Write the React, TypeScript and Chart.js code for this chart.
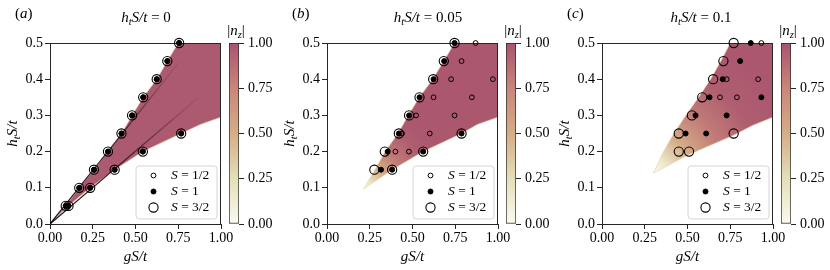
import React, { useEffect, useRef } from 'react';
import { Chart, registerables } from 'chart.js';
Chart.register(...registerables);

const FONT = "'Liberation Serif', 'Times New Roman', serif";
const TICK_SIZE = 14;
const LABEL_SIZE = 15;

// ---------- ticks ----------
const X_TICKS = [0, 0.25, 0.5, 0.75, 1.0];
const Y_TICKS = [0, 0.1, 0.2, 0.3, 0.4, 0.5];
const CBAR_TICKS = [0, 0.25, 0.5, 0.75, 1.0];

// ---------- colormap (|n_z|) ----------
const CMAP_POS = [0, 0.25, 0.5, 0.75, 1];
const CMAP_COL = ['#fafaf0', '#e4dfb8', '#d5ad88', '#c98679', '#a8546e'];

// ---------- panel (a): h_t S/t = 0 ----------
const A_POINTS = [
  [0.092, 0.05], [0.171, 0.1], [0.257, 0.15], [0.339, 0.2], [0.418, 0.25],
  [0.48, 0.3], [0.545, 0.35], [0.624, 0.4], [0.686, 0.45], [0.755, 0.5],
  [0.108, 0.05], [0.235, 0.1], [0.378, 0.15], [0.543, 0.2], [0.767, 0.25],
];
const A_S12 = A_POINTS;
const A_S1 = A_POINTS;
const A_S32 = A_POINTS;
const A_UPPER = [[0, 0], [0.092, 0.05], [0.171, 0.1], [0.257, 0.15], [0.339, 0.2], [0.418, 0.25], [0.48, 0.3], [0.545, 0.35], [0.624, 0.4], [0.686, 0.45], [0.75, 0.5]];
const A_LOWER = [[0, 0], [0.108, 0.05], [0.235, 0.1], [0.378, 0.15], [0.543, 0.2], [0.767, 0.25], [0.88, 0.275], [1.0, 0.295]];
const A_LINE1 = [[0, 0], [0.76, 0.45]];
const A_LINE2 = [[0, 0], [0.87, 0.35]];
const A_LEVEL = 0.97;

// ---------- panel (b): h_t S/t = 0.05 ----------
const B_S12 = [
  [0.869, 0.5], [0.787, 0.45], [0.726, 0.4], [0.97, 0.4], [0.623, 0.35], [0.847, 0.35],
  [0.521, 0.3], [0.746, 0.3], [0.439, 0.25], [0.601, 0.25], [0.4, 0.2], [0.479, 0.2],
];
const B_S1 = [
  [0.316, 0.15], [0.381, 0.15], [0.355, 0.2], [0.5625, 0.2], [0.42, 0.25], [0.787, 0.25],
  [0.48, 0.3], [0.541, 0.35], [0.623, 0.4], [0.685, 0.45], [0.746, 0.5],
];
const B_S32 = [
  [0.277, 0.15], [0.381, 0.15], [0.338, 0.2], [0.5625, 0.2], [0.42, 0.25], [0.787, 0.25],
  [0.48, 0.3], [0.541, 0.35], [0.621, 0.4], [0.683, 0.45], [0.746, 0.5],
];
const B_UPPER = [[0.215, 0.097], [0.28, 0.15], [0.34, 0.2], [0.415, 0.25], [0.475, 0.3], [0.54, 0.35], [0.618, 0.4], [0.683, 0.45], [0.745, 0.5]];
const B_LOWER = [[0.215, 0.097], [0.381, 0.15], [0.5625, 0.2], [0.787, 0.25], [0.88, 0.275], [1.0, 0.295]];
const B_FADE = [[0, 0], [0.12, 0.2], [0.3, 0.5], [0.55, 0.82], [0.8, 0.95], [1, 0.98]];

// ---------- panel (c): h_t S/t = 0.1 ----------
const C_S12 = [[0.932, 0.5], [0.729, 0.4], [0.913, 0.4], [0.69, 0.35], [0.789, 0.35]];
const C_S1 = [
  [0.87, 0.5], [0.808, 0.45], [0.706, 0.4], [0.629, 0.35], [0.932, 0.35],
  [0.547, 0.3], [0.729, 0.3], [0.489, 0.25], [0.609, 0.25],
];
const C_S32 = [
  [0.77, 0.5], [0.71, 0.45], [0.65, 0.4], [0.586, 0.35], [0.526, 0.3],
  [0.449, 0.25], [0.77, 0.25], [0.449, 0.2], [0.509, 0.2],
];
const C_UPPER = [[0.3, 0.14], [0.36, 0.2], [0.42, 0.25], [0.49, 0.3], [0.565, 0.35], [0.635, 0.4], [0.695, 0.45], [0.75, 0.5]];
const C_LOWER = [[0.3, 0.14], [0.5, 0.19], [0.77, 0.245], [0.88, 0.272], [1.0, 0.295]];
const C_FADE = [[0, 0], [0.1, 0.15], [0.28, 0.5], [0.5, 0.8], [0.75, 0.95], [1, 0.98]];

// ---------- helpers ----------
type Seg = { t: string; it?: boolean; sub?: boolean };
const pts = (a: number[][]) => a.map(([x, y]) => ({ x, y }));

function hexRgb(h: string) {
  const n = parseInt(h.slice(1), 16);
  return [(n >> 16) & 255, (n >> 8) & 255, n & 255];
}
function cmap(v: number) {
  const t = Math.max(0, Math.min(1, v));
  let i = 0;
  while (i < CMAP_POS.length - 2 && t > CMAP_POS[i + 1]) i++;
  const f = (t - CMAP_POS[i]) / (CMAP_POS[i + 1] - CMAP_POS[i]);
  const a = hexRgb(CMAP_COL[i]);
  const b = hexRgb(CMAP_COL[i + 1]);
  const c = a.map((va, k) => Math.round(va + (b[k] - va) * f));
  return `rgb(${c[0]},${c[1]},${c[2]})`;
}

function drawMath(ctx: CanvasRenderingContext2D, segs: Seg[], x: number, y: number, size: number, align: 'center' | 'left', rot = 0) {
  ctx.save();
  ctx.translate(x, y);
  if (rot) ctx.rotate(rot);
  let total = 0;
  const ms = segs.map((s) => {
    const fs = s.sub ? size * 0.7 : size;
    const font = `${s.it ? 'italic ' : ''}${fs}px ${FONT}`;
    ctx.font = font;
    const w = ctx.measureText(s.t).width;
    total += w;
    return { s, font, w };
  });
  let cx = align === 'center' ? -total / 2 : 0;
  ctx.textBaseline = 'middle';
  ctx.textAlign = 'left';
  ctx.fillStyle = '#000';
  for (const m of ms) {
    ctx.font = m.font;
    ctx.fillText(m.s.t, cx, m.s.sub ? size * 0.28 : 0);
    cx += m.w;
  }
  ctx.restore();
}

interface PanelCfg {
  letter: string;
  ht: string;
  s12: number[][];
  s1: number[][];
  s32: number[][];
  upper: number[][];
  lower: number[][];
  lines: number[][][];
  fade: number[][] | null;
  fadeRadius: number;
  level: number;
  plotLeft: number;
  titleDx: number;
}

const PLOT_W = 171;
const PLOT_TOP = 43;
const PLOT_BOTTOM = 224;
const H = 270;

const PANELS: PanelCfg[] = [
  { letter: 'a', ht: '0', s12: A_S12, s1: A_S1, s32: A_S32, upper: A_UPPER, lower: A_LOWER, lines: [A_LINE1, A_LINE2], fade: null, fadeRadius: 0, level: A_LEVEL, plotLeft: 50, titleDx: 96 },
  { letter: 'b', ht: '0.05', s12: B_S12, s1: B_S1, s32: B_S32, upper: B_UPPER, lower: B_LOWER, lines: [], fade: B_FADE, fadeRadius: 80, level: 1, plotLeft: 327, titleDx: 101 },
  { letter: 'c', ht: '0.1', s12: C_S12, s1: C_S1, s32: C_S32, upper: C_UPPER, lower: C_LOWER, lines: [], fade: C_FADE, fadeRadius: 140, level: 1, plotLeft: 602, titleDx: 99 },
];

const MAIN_W = 50 + PLOT_W + 22;
const CBAR_GAP = 6;
const CBAR_W = 60;

function makeMain(canvas: HTMLCanvasElement, p: PanelCfg) {
  const polygon = [...p.upper, [1, 0.5], ...[...p.lower].reverse()];
  const region: any = {
    type: 'line',
    data: pts(polygon),
    isRegion: true,
    fill: 'shape',
    order: 10,
    tension: 0,
    pointRadius: 0,
    pointHoverRadius: 0,
    borderWidth: 1,
    borderColor: 'rgba(228,218,176,0.75)',
    backgroundColor: (ctx: any) => {
      const ch = ctx.chart;
      const xs = ch.scales.x;
      const ys = ch.scales.y;
      if (!ch.chartArea || !xs || !ys) return cmap(p.level);
      if (!p.fade) return cmap(p.level);
      const cx = xs.getPixelForValue(p.upper[0][0]);
      const cy = ys.getPixelForValue(p.upper[0][1]);
      const g = ch.ctx.createRadialGradient(cx, cy, 0, cx, cy, p.fadeRadius);
      p.fade.forEach(([f, v]) => g.addColorStop(f, cmap(v)));
      return g;
    },
  };
  const lineDs = p.lines.map((ln, i) => ({
    type: 'line',
    data: pts(ln),
    order: 8 - i,
    tension: 0,
    pointRadius: 0,
    pointHoverRadius: 0,
    borderWidth: 1.2,
    fill: false,
    borderColor: (ctx: any) => {
      const ch = ctx.chart;
      const xs = ch.scales.x;
      const ys = ch.scales.y;
      if (!ch.chartArea || !xs || !ys) return '#2a1820';
      const g = ch.ctx.createLinearGradient(
        xs.getPixelForValue(ln[0][0]), ys.getPixelForValue(ln[0][1]),
        xs.getPixelForValue(ln[1][0]), ys.getPixelForValue(ln[1][1]));
      g.addColorStop(0, 'rgba(15,8,10,1)');
      g.addColorStop(0.55, 'rgba(45,22,32,0.85)');
      g.addColorStop(1, 'rgba(90,40,60,0.1)');
      return g;
    },
  }));
  const ptDs = (label: string, data: number[][], r: number, filled: boolean, bw: number, order: number) => ({
    type: 'scatter',
    label,
    isPoints: true,
    data: pts(data),
    order,
    clip: false,
    pointRadius: r,
    pointHoverRadius: r,
    pointBorderWidth: bw,
    pointBorderColor: '#000',
    pointBackgroundColor: filled ? '#000' : 'rgba(0,0,0,0)',
    showLine: false,
  });
  const datasets: any[] = [
    ptDs('1/2', p.s12, 2.4, false, 1, 1),
    ptDs('1', p.s1, 2.5, true, 1, 2),
    ptDs('3/2', p.s32, 4.6, false, 1.1, 3),
    ...lineDs,
    region,
  ];

  const deco = {
    id: 'deco' + p.letter,
    afterDatasetDraw(chart: any, args: any) {
      if (!chart.data.datasets[args.index].isRegion) return;
      const { ctx, chartArea: ca } = chart;
      ctx.save();
      ctx.strokeStyle = '#262626';
      ctx.lineWidth = 1;
      ctx.strokeRect(ca.left + 0.5, ca.top + 0.5, ca.right - ca.left - 1, ca.bottom - ca.top);
      ctx.restore();
    },
    afterDraw(chart: any) {
      const { ctx, chartArea: ca } = chart;
      drawMath(ctx, [{ t: '(' }, { t: p.letter, it: true }, { t: ')' }], ca.left - 35, 14, LABEL_SIZE, 'left');
      drawMath(ctx, [{ t: 'h', it: true }, { t: 't', it: true, sub: true }, { t: 'S/t', it: true }, { t: ' = ' + p.ht }],
        ca.left + p.titleDx, 18, LABEL_SIZE, 'center');
      drawMath(ctx, [{ t: 'h', it: true }, { t: 't', it: true, sub: true }, { t: 'S/t', it: true }],
        ca.left - 37, (ca.top + ca.bottom) / 2, LABEL_SIZE, 'center', -Math.PI / 2);
      drawMath(ctx, [{ t: 'gS/t', it: true }], (ca.left + ca.right) / 2, 257, LABEL_SIZE, 'center');
      // legend
      const bw = 81;
      const bh = 53;
      const bx = ca.right - 4 - bw;
      const by = ca.bottom - 5 - bh;
      ctx.save();
      ctx.beginPath();
      const r = 3;
      ctx.moveTo(bx + r, by);
      ctx.arcTo(bx + bw, by, bx + bw, by + bh, r);
      ctx.arcTo(bx + bw, by + bh, bx, by + bh, r);
      ctx.arcTo(bx, by + bh, bx, by, r);
      ctx.arcTo(bx, by, bx + bw, by, r);
      ctx.closePath();
      ctx.fillStyle = 'rgba(255,255,255,0.8)';
      ctx.fill();
      ctx.strokeStyle = '#d6d6d6';
      ctx.lineWidth = 1;
      ctx.stroke();
      const items = chart.data.datasets.filter((d: any) => d.isPoints);
      items.forEach((d: any, i: number) => {
        const y = by + 9.5 + i * 16;
        const mx = bx + 17.5;
        ctx.beginPath();
        ctx.arc(mx, y, d.pointRadius, 0, Math.PI * 2);
        ctx.fillStyle = d.pointBackgroundColor;
        ctx.fill();
        ctx.lineWidth = d.pointBorderWidth;
        ctx.strokeStyle = d.pointBorderColor;
        ctx.stroke();
        drawMath(ctx, [{ t: 'S', it: true }, { t: ' = ' + d.label }], bx + 35, y, 13.5, 'left');
      });
      ctx.restore();
    },
  };

  return new Chart(canvas, {
    type: 'scatter',
    data: { datasets },
    options: {
      animation: false,
      responsive: false,
      devicePixelRatio: 1,
      events: [],
      layout: { padding: { left: 0, right: MAIN_W - 50 - PLOT_W, top: PLOT_TOP, bottom: 0 } },
      plugins: { legend: { display: false }, tooltip: { enabled: false } },
      scales: {
        x: {
          type: 'linear',
          min: 0,
          max: 1,
          afterBuildTicks: (s: any) => { s.ticks = X_TICKS.map((v) => ({ value: v })); },
          afterFit: (s: any) => { s.height = H - PLOT_BOTTOM; },
          ticks: { callback: (v: any) => Number(v).toFixed(2), font: { family: FONT, size: TICK_SIZE }, color: '#000', padding: 1, maxRotation: 0, autoSkip: false },
          grid: { drawOnChartArea: false, drawTicks: true, tickLength: 5, tickColor: '#262626' },
          border: { display: false },
        },
        y: {
          type: 'linear',
          min: 0,
          max: 0.5,
          afterBuildTicks: (s: any) => { s.ticks = Y_TICKS.map((v) => ({ value: v })); },
          afterFit: (s: any) => { s.width = 50; },
          ticks: { callback: (v: any) => Number(v).toFixed(1), font: { family: FONT, size: TICK_SIZE }, color: '#000', padding: 2, autoSkip: false },
          grid: { drawOnChartArea: false, drawTicks: true, tickLength: 5, tickColor: '#262626' },
          border: { display: false },
        },
      },
    } as any,
    plugins: [deco],
  });
}

function makeCbar(canvas: HTMLCanvasElement, p: PanelCfg) {
  const title = {
    id: 'cbt' + p.letter,
    afterDraw(chart: any) {
      const { ctx, chartArea: ca } = chart;
      drawMath(ctx, [{ t: '|' }, { t: 'n', it: true }, { t: 'z', it: true, sub: true }, { t: '|' }], (ca.left + ca.right) / 2 + 2, 31, LABEL_SIZE, 'center');
    },
  };
  return new Chart(canvas, {
    type: 'bar',
    data: {
      labels: [''],
      datasets: [{
        data: [[0, 1]] as any,
        barPercentage: 1,
        categoryPercentage: 1,
        borderWidth: 1,
        borderColor: '#262626',
        borderSkipped: false,
        backgroundColor: (ctx: any) => {
          const ch = ctx.chart;
          const ca = ch.chartArea;
          if (!ca) return cmap(0.5);
          const g = ch.ctx.createLinearGradient(0, ca.bottom, 0, ca.top);
          CMAP_POS.forEach((pos, i) => g.addColorStop(pos, CMAP_COL[i]));
          return g;
        },
      }],
    },
    options: {
      animation: false,
      responsive: false,
      devicePixelRatio: 1,
      events: [],
      layout: { padding: { left: 2, right: 0, top: PLOT_TOP, bottom: H - PLOT_BOTTOM } },
      plugins: { legend: { display: false }, tooltip: { enabled: false } },
      scales: {
        x: { display: false },
        y: {
          position: 'right',
          min: 0,
          max: 1,
          afterBuildTicks: (s: any) => { s.ticks = CBAR_TICKS.map((v) => ({ value: v })); },
          afterFit: (s: any) => { s.width = CBAR_W - 2 - 10; },
          ticks: { callback: (v: any) => Number(v).toFixed(2), font: { family: FONT, size: TICK_SIZE }, color: '#000', padding: 4, autoSkip: false },
          grid: { drawOnChartArea: false, drawTicks: true, tickLength: 5, tickColor: '#262626' },
          border: { display: false },
        },
      },
    } as any,
    plugins: [title],
  });
}

function Panel({ p }: { p: PanelCfg }) {
  const mainRef = useRef<HTMLCanvasElement>(null);
  const cbRef = useRef<HTMLCanvasElement>(null);
  useEffect(() => {
    const a = makeMain(mainRef.current!, p);
    const b = makeCbar(cbRef.current!, p);
    return () => { a.destroy(); b.destroy(); };
  }, [p]);
  const mainLeft = p.plotLeft - 50;
  const cbLeft = p.plotLeft + PLOT_W + CBAR_GAP;
  return (
    <>
      <canvas ref={mainRef} width={MAIN_W} height={H} style={{ position: 'absolute', left: mainLeft, top: 0, width: MAIN_W, height: H }} />
      <canvas ref={cbRef} width={CBAR_W} height={H} style={{ position: 'absolute', left: cbLeft, top: 0, width: CBAR_W, height: H }} />
    </>
  );
}

export default function App() {
  return (
    <div style={{ position: 'absolute', left: 0, top: 0, width: 830, height: 270, background: '#fff', overflow: 'hidden' }}>
      {PANELS.map((p) => <Panel key={p.letter} p={p} />)}
    </div>
  );
}
